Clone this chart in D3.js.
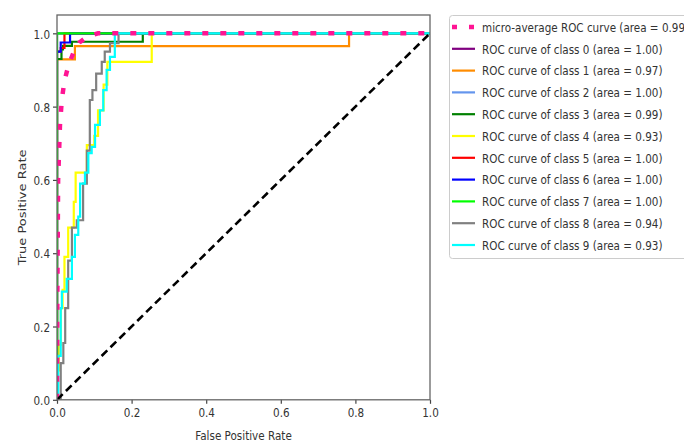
<!DOCTYPE html>
<html>
<head>
<meta charset="utf-8">
<script src="https://cdn.jsdelivr.net/npm/d3@7"></script>
<style>
  html, body { margin: 0; padding: 0; background: #fff; }
  svg { display: block; }
  text { font-family: "DejaVu Sans", sans-serif; fill: #333; }
</style>
</head>
<body>
<svg id="chart" width="684" height="442"></svg>
<script>
// ---------------- data ----------------
const xTicks = [0.0, 0.2, 0.4, 0.6, 0.8, 1.0];
const yTicks = [0.0, 0.2, 0.4, 0.6, 0.8, 1.0];
const xLabel = "False Positive Rate";
const yLabel = "True Positive Rate";

const microRoc = [[0,0],[0.001,0.3],[0.003,0.6],[0.008,0.75],[0.013,0.82],[0.02,0.87],[0.03,0.91],[0.045,0.95],[0.06,0.975],[0.08,0.99],[0.11,1.0],[1,1]];
const class0Roc = [[0,0],[0,1],[1,1]];
const class1Roc = [[0,0],[0,0.929],[0.048,0.929],[0.048,0.965],[0.783,0.965],[0.783,1],[1,1]];
const class2Roc = [[0,0],[0,1],[1,1]];
const class3Roc = [[0,0],[0,0.93],[0.012,0.93],[0.012,0.956],[0.016,0.956],[0.016,0.966],[0.04,0.966],[0.04,0.977],[0.23,0.977],[0.23,1],[1,1]];
const class4Roc = [[0,0],[0,0.08],[0.005,0.08],[0.005,0.15],[0.01,0.15],[0.01,0.25],[0.015,0.25],[0.015,0.3],[0.02,0.3],[0.02,0.39],[0.03,0.39],[0.03,0.47],[0.045,0.47],[0.045,0.54],[0.05,0.54],[0.05,0.62],[0.08,0.62],[0.08,0.695],[0.1,0.695],[0.1,0.72],[0.11,0.72],[0.11,0.79],[0.125,0.79],[0.125,0.86],[0.135,0.86],[0.135,0.922],[0.254,0.922],[0.254,1],[1,1]];
const class5Roc = [[0,0],[0,0.95],[0.01,0.95],[0.01,0.96],[0.02,0.96],[0.02,1],[1,1]];
const class6Roc = [[0,0],[0,0.95],[0.01,0.95],[0.01,0.975],[0.035,0.975],[0.035,1],[1,1]];
const class7Roc = [[0,0],[0,1],[1,1]];
const class8Roc = [[0,0],[0.01,0],[0.01,0.1],[0.017,0.1],[0.017,0.155],[0.022,0.155],[0.022,0.25],[0.03,0.25],[0.03,0.38],[0.04,0.38],[0.04,0.47],[0.053,0.47],[0.053,0.49],[0.07,0.49],[0.07,0.59],[0.08,0.59],[0.08,0.68],[0.088,0.68],[0.088,0.818],[0.095,0.818],[0.095,0.845],[0.105,0.845],[0.105,0.89],[0.12,0.89],[0.12,0.922],[0.128,0.922],[0.128,0.95],[0.142,0.95],[0.142,0.973],[0.165,0.973],[0.165,1],[1,1]];
const class9Roc = [[0,0],[0.003,0],[0.003,0.12],[0.01,0.12],[0.01,0.25],[0.013,0.25],[0.013,0.295],[0.026,0.295],[0.026,0.33],[0.04,0.33],[0.04,0.39],[0.048,0.39],[0.048,0.45],[0.057,0.45],[0.057,0.5],[0.062,0.5],[0.062,0.59],[0.075,0.59],[0.075,0.62],[0.084,0.62],[0.084,0.673],[0.093,0.673],[0.093,0.69],[0.102,0.69],[0.102,0.75],[0.115,0.75],[0.115,0.79],[0.124,0.79],[0.124,0.845],[0.133,0.845],[0.133,0.9],[0.142,0.9],[0.142,0.936],[0.155,0.936],[0.155,1],[1,1]];
const chanceLine = [[0,0],[1,1]];

const classCurves = [class0Roc, class1Roc, class2Roc, class3Roc, class4Roc, class5Roc, class6Roc, class7Roc, class8Roc, class9Roc];
const classAuc = ["1.00","0.97","1.00","0.99","0.93","1.00","1.00","1.00","0.94","0.93"];
const microAuc = "0.99";
const classColors = ["#800080","#ff8c00","#6495ed","#008000","#ffff00","#ff0000","#0000ff","#00ff00","#808080","#00ffff"];
const microColor = "#ff1493";

const legendLabels = [`micro-average ROC curve (area = ${microAuc})`]
  .concat(classAuc.map((a, i) => `ROC curve of class ${i} (area = ${a})`));

// ---------------- layout ----------------
const SX = 0.8; // horizontal squeeze of text
const plot = { left: 57, right: 430, top: 15, bottom: 399.8 };
const svg = d3.select("#chart");

const x = d3.scaleLinear().domain([0, 1]).range([plot.left, plot.right]);
const y = d3.scaleLinear().domain([0, 1.05]).range([plot.bottom, plot.top]);

svg.append("defs").append("clipPath").attr("id", "clip")
  .append("rect").attr("x", plot.left).attr("y", plot.top)
  .attr("width", plot.right - plot.left).attr("height", plot.bottom - plot.top);

const line = d3.line().x(d => x(d[0])).y(d => y(d[1]));
const curves = svg.append("g").attr("clip-path", "url(#clip)");

classCurves.forEach((c, i) => {
  curves.append("path").datum(c).attr("d", line)
    .attr("fill", "none").attr("stroke", classColors[i]).attr("stroke-width", 2.2);
});

// micro-average (on top of the class curves)
curves.append("path").datum(microRoc).attr("d", line)
  .attr("fill", "none").attr("stroke", microColor).attr("stroke-width", 4.5)
  .attr("stroke-dasharray", "6,12");

curves.append("path").datum(chanceLine).attr("d", line)
  .attr("fill", "none").attr("stroke", "#000").attr("stroke-width", 2.6)
  .attr("stroke-dasharray", "8,4.5");

// axes
const xAxis = svg.append("g").attr("transform", `translate(0,${plot.bottom})`)
  .call(d3.axisBottom(x).tickValues(xTicks).tickFormat(d3.format(".1f")).tickSize(4).tickSizeOuter(0));
const yAxis = svg.append("g").attr("transform", `translate(${plot.left},0)`)
  .call(d3.axisLeft(y).tickValues(yTicks).tickFormat(d3.format(".1f")).tickSize(4).tickSizeOuter(0));
[xAxis, yAxis].forEach(a => {
  a.select(".domain").remove();
  a.selectAll(".tick line").attr("stroke", "#444").attr("stroke-width", 1.2);
  a.selectAll(".tick text").attr("font-size", 13).attr("font-family", "DejaVu Sans").attr("fill", "#333");
});
xAxis.selectAll(".tick text").attr("y", 8).attr("transform", `scale(${SX},1)`);
yAxis.selectAll(".tick text").attr("x", -7 / SX).attr("dy", "0.36em").attr("transform", `scale(${SX},1)`);

// frame
svg.append("rect").attr("x", plot.left).attr("y", plot.top)
  .attr("width", plot.right - plot.left).attr("height", plot.bottom - plot.top)
  .attr("fill", "none").attr("stroke", "#666").attr("stroke-width", 1.3);

// axis labels
function squeezedText(px, py, str, anchor, rot) {
  const g = svg.append("g").attr("transform", `translate(${px},${py}) scale(${SX},1)` + (rot ? ` rotate(${rot})` : ""));
  return g.append("text").attr("text-anchor", anchor).attr("font-size", 13).text(str);
}
squeezedText((plot.left + plot.right) / 2, 440, xLabel, "middle");
squeezedText(26, (plot.top + plot.bottom) / 2, yLabel, "middle", -90);

// legend
const lg = svg.append("g");
lg.append("rect").attr("x", 449.5).attr("y", 15.5).attr("width", 260).attr("height", 243)
  .attr("rx", 3).attr("fill", "#fff").attr("fill-opacity", 0.8)
  .attr("stroke", "#ccc").attr("stroke-width", 1);
const legendColors = [microColor].concat(classColors);
legendLabels.forEach((lab, i) => {
  const cy = 27 + i * 21.8;
  const l = lg.append("line").attr("x1", 452).attr("x2", 475).attr("y1", cy).attr("y2", cy)
    .attr("stroke", legendColors[i]);
  if (i === 0) l.attr("stroke-width", 4.5).attr("stroke-dasharray", "5,12");
  else l.attr("stroke-width", 2.2);
  const g = lg.append("g").attr("transform", `translate(482,${cy + 4.7}) scale(${SX},1)`);
  g.append("text").attr("font-size", 13).text(lab);
});
</script>
</body>
</html>
